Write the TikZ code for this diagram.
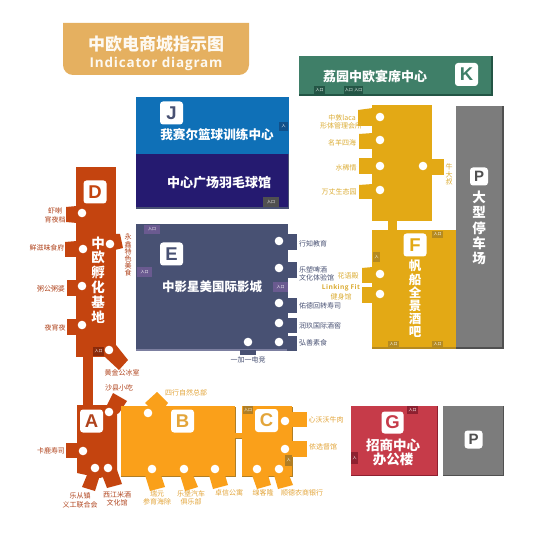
\documentclass[tikz,border=0pt]{standalone}
\usepackage{fontspec}
\setmainfont{Noto Sans CJK SC}
\newfontfamily\cjk{Noto Sans CJK SC}
\newfontfamily\latinb[LetterSpace=6]{Open Sans Bold}
\newfontfamily\iconf{Liberation Sans Bold}
\definecolor{cTitle}{HTML}{E5B060}
\definecolor{cBlue}{HTML}{0F70B7}
\definecolor{cBlueD}{HTML}{10508A}
\definecolor{cNavy}{HTML}{251A70}
\definecolor{cGreen}{HTML}{3F7F68}
\definecolor{cGreenD}{HTML}{235545}
\definecolor{cRust}{HTML}{C4440F}
\definecolor{cRustD}{HTML}{8A2A0A}
\definecolor{cRustL}{HTML}{B0431C}
\definecolor{cOrange}{HTML}{FAA01A}
\definecolor{cOrangeD}{HTML}{B07E25}
\definecolor{cOrangeL}{HTML}{E3A53A}
\definecolor{cGold}{HTML}{E3A915}
\definecolor{cGoldD}{HTML}{B58A20}
\definecolor{cGoldL}{HTML}{DCAD35}
\definecolor{cSlate}{HTML}{485173}
\definecolor{cSlateL}{HTML}{7C7FA0}
\definecolor{cTag}{HTML}{6A5A90}
\definecolor{cGray}{HTML}{7C7C7C}
\definecolor{cGrayD}{HTML}{505050}
\definecolor{cRed}{HTML}{C63B49}
\definecolor{cRedD}{HTML}{8E2030}
\tikzset{
  dot/.style={circle,fill=white,minimum size=8.6pt,inner sep=0pt},
  iconbox/.style={fill=white,rounded corners=3pt,minimum size=23pt,inner sep=0pt,font=\iconf\fontsize{18.5}{19}\selectfont},
  iconsmall/.style={iconbox,minimum size=18pt,font=\iconf\fontsize{15}{15}\selectfont},
  lab/.style={inner sep=0pt,font=\cjk\fontsize{7}{8}\selectfont},
  big/.style={inner sep=0pt,text=white,font=\cjk\bfseries\fontsize{13}{14}\selectfont},
  vbig/.style={big,font=\cjk\bfseries\fontsize{13.5}{15}\selectfont},
  tagt/.style={inner sep=0pt,text=white,font=\cjk\fontsize{4}{4}\selectfont},
}
\newcommand{\tagbox}[6]{\fill[#5] (#1,#2) rectangle (#3,#4);
  \node[tagt] (#6) at ({(#1+#3)/2},{(#2+#4)/2}) {入口};}
\begin{document}
\begin{tikzpicture}[x=1pt,y=-1pt]
\useasboundingbox (0,0) rectangle (549,537);
\fill[white] (0,0) rectangle (549,537);
% title
\fill[cTitle] (63,23) -- (249,23) -- (249,65) arc[start angle=0,end angle=90,radius=10] -- (73,75) arc[start angle=90,end angle=180,radius=10] -- cycle;
\node[inner sep=0pt,text=white!92!cTitle,font=\cjk\bfseries\fontsize{17}{18}\selectfont] (title) at (156,44) {中欧电商城指示图};
\node[inner sep=0pt,text=white!92!cTitle,font=\latinb\fontsize{13.5}{14}\selectfont] (titleen) at (156,64) {Indicator diagram};
% J
\fill[cBlue] (136,97) rectangle (289,154);
\fill[cNavy] (136,154) rectangle (288,207);
\fill[cSlate] (136,207) rectangle (289,209);
\fill[cSlate] (288,154) rectangle (289,209);
\fill[cBlueD] (279,122) rectangle (288,131);
\node[tagt] (tagJ) at (283.5,126.5) {入};
\fill[cGrayD] (263,197) rectangle (279,207);
\node[tagt] (tagJ2) at (271,202) {入口};
\node[iconbox,text=cSlate] (iconJ) at (171.5,113) {J};
\node[big,font=\cjk\bfseries\fontsize{12.6}{14}\selectfont] (tJ) at (217,135) {我赛尔篮球训练中心};
\node[big] (tH) at (219,183) {中心广场羽毛球馆};
% K
\fill[cGreenD] (299,56) rectangle (493,96);
\fill[cGreen] (299,56) rectangle (491,94);
\node[iconbox,text=cGreen] (iconK) at (466.5,74.5) {K};
\node[big] (tK) at (375,76) {荔园中欧宴席中心};
\tagbox{314}{86}{325}{94}{cGreenD}{tagK1}
\tagbox{344}{86}{353.5}{94}{cGreenD}{tagK2}
\tagbox{353.5}{86}{363}{94}{cGreenD}{tagK3}
% D
\fill[cRust] (76,167) rectangle (116,357);
\fill[cRust] (83,357) rectangle (93,408);
\fill[cRust] (66,207) -- (77,206) -- (77,223) -- (66,222) -- cycle;
\fill[cRust] (65,242) -- (77,241) -- (77,257) -- (65,257) -- cycle;
\fill[cRust] (67,280) -- (77,280) -- (77,296) -- (67,296) -- cycle;
\fill[cRust] (67,319) -- (77,319) -- (77,335) -- (67,335) -- cycle;
\fill[cRust] (115,234) -- (120,234) -- (123,248) -- (115,250) -- cycle;
\fill[cRust] (105,357) -- (116,345) -- (128,360) -- (119,370) -- cycle;
\node[iconbox,text=cRust] (iconD) at (95,192) {D};
\foreach \n/\y/\c in {a/243/中,b/257/欧,c/272/孵,d/287/化,e/302/基,f/317/地}
  \node[vbig] (tD\n) at (98,\y) {\c};
\tagbox{93}{347}{104}{356}{cRustD}{tagD}
\foreach \n/\x/\y in {a/82/213,b/83/249,c/82/286,d/82/325,e/110/244,f/109/350}
  \node[dot] (dD\n) at (\x,\y) {};
\begin{scope}[every node/.style={lab,text=cRustL}]
\node (l1) at (55,211) {虾喇};
\node (l2) at (55,220) {宵夜档};
\node (l3) at (47,248) {鲜滋味食府};
\node (l4) at (51,289) {粥公粥婆};
\node (l5) at (55,328) {夜宵夜};
\foreach \n/\y/\c in {a/237/永,b/244.5/鑫,c/252/特,d/259/色,e/266/美,f/273/食}
  \node (l6\n) at (128,\y) {\c};
\node (l7) at (122,373) {黄金公冰室};
\node (l8) at (119,388) {沙县小吃};
\node (l9) at (51,451) {卡鹿寿司};
\node (l10) at (80,496) {乐从镇};
\node (l11) at (80,505) {义工联合会};
\node (l12) at (117,495) {西江米酒};
\node (l13) at (117,503) {文化馆};
\end{scope}
% A
\fill[cRust] (77,405) -- (117,405) -- (117,473) -- (100,478) -- (77,473) -- cycle;
\fill[cRust] (66,443) rectangle (78,458);
\fill[cRust] (107,405) -- (113,393) -- (127,401) -- (119,413) -- (117,414) -- cycle;
\fill[cRust] (87,475) -- (82,487) -- (95,491) -- (100,475) -- cycle;
\fill[cRust] (102,475) -- (107,488) -- (122,484) -- (117,470) -- cycle;
\node[iconbox,text=cRustL] (iconA) at (91.5,421) {A};
\foreach \n/\x/\y in {a/109/412,b/83/451,c/95/468,d/108/468}
  \node[dot] (dA\n) at (\x,\y) {};
% B
\fill[cOrangeD] (121,407) rectangle (236,477);
\fill[cOrange] (121,406) rectangle (235,476);
\fill[cOrange] (145,403) -- (157,392) -- (168,403) -- (165,407) -- (149,407) -- cycle;
\fill[cOrangeD] (235,433) rectangle (242,439);
\fill[cOrange] (235,433) rectangle (243,438);
\fill[cOrange] (145,475) -- (150,491) -- (165,487) -- (161,475) -- cycle;
\fill[cOrange] (180,475) -- (185,491) -- (198,487) -- (193,475) -- cycle;
\fill[cOrange] (209,475) -- (213,489) -- (228,485) -- (225,475) -- cycle;
\node[iconbox,text=cOrangeL] (iconB) at (182.5,421) {B};
\foreach \n/\x/\y in {a/148/413,b/152/469,c/184/469,d/215/469}
  \node[dot] (dB\n) at (\x,\y) {};
% C
\fill[cOrangeD] (242,407) rectangle (293,477);
\fill[cOrange] (242,406) rectangle (292,476);
\fill[cOrange] (291,412) rectangle (307,427);
\fill[cOrange] (291,441) rectangle (307,457);
\fill[cOrange] (252,475) -- (257,489) -- (271,485) -- (268,475) -- cycle;
\fill[cOrange] (274,475) -- (278,489) -- (293,485) -- (289,475) -- cycle;
\node[iconbox,text=cOrangeL] (iconC) at (266.5,420.5) {C};
\tagbox{243}{406}{253}{414}{cOrangeD}{tagC1}
\fill[cOrangeD] (285,455) rectangle (292,466);
\node[tagt] (tagC2) at (288.5,460.5) {入};
\foreach \n/\x/\y in {a/285/421,b/285/449,c/257/469,d/279/469}
  \node[dot] (dC\n) at (\x,\y) {};
\begin{scope}[every node/.style={lab,text=cOrangeL}]
\node (l14) at (186,393) {四行自然总部};
\node (l15) at (157,494) {瑞元};
\node (l16) at (157,502) {参育海除};
\node (l17) at (191,494) {乐堡汽车};
\node (l18) at (191,502) {俱乐部};
\node (l19) at (229,493) {卓信公寓};
\node (l20) at (326,420) {心沃沃牛肉};
\node (l21) at (323,447) {依选督馆};
\node (l22) at (263,493) {缐客隆};
\node (l23) at (302,493) {顺德农商银行};
\end{scope}
% G
\fill[cRedD] (351,406) rectangle (438,476);
\fill[cRed] (351,406) rectangle (436.5,475);
\node[iconbox,text=cRed,minimum size=22pt] (iconG) at (392.5,422.5) {G};
\node[vbig] (tG1) at (393,445) {招商中心};
\node[vbig] (tG2) at (393,459) {办公楼};
\tagbox{407}{406}{418}{414}{cRedD}{tagG1}
\fill[cRedD] (351,452) rectangle (358,464);
\node[tagt] (tagG2) at (354.5,458) {入};
% small P
\fill[cGrayD] (443,406) rectangle (504,476);
\fill[cGray] (443,406) rectangle (502.5,474.5);
\node[iconsmall,text=cGrayD] (iconP2) at (473.5,439.5) {P};
% E
\fill[cSlate] (136,224) rectangle (288,350);
\fill[cSlateL] (136,349) rectangle (288,351);
\foreach \a/\b in {234/250,262/278,298/313,318/333,336/351}
  \fill[cSlate] (287,\a) rectangle (297,\b);
\fill[cSlate] (240,350) rectangle (256,355);
\tagbox{144}{225}{160}{234}{cTag}{tagE1}
\tagbox{137}{267}{152}{277}{cTag}{tagE2}
\tagbox{273}{282}{288}{292}{cTag}{tagE3}
\node[iconbox,text=cSlate] (iconE) at (171.5,254) {E};
\node[big,font=\cjk\bfseries\fontsize{12.5}{14}\selectfont] (tE) at (212,287) {中影星美国际影城};
\foreach \n/\x/\y in {a/279/241,b/279/268,c/279/303,d/279/323,e/279/342,f/248/342}
  \node[dot] (dE\n) at (\x,\y) {};
\begin{scope}[every node/.style={lab,text=cSlate,anchor=west}]
\node (l24) at (299,244) {行知教育};
\node (l25) at (299,270) {乐塑啤酒};
\node (l26) at (299,278) {文化体验馆};
\node (l27) at (299,306) {佑德回转寿司};
\node (l28) at (299,326) {润玖国际酒窖};
\node (l29) at (299,343) {弘善素食};
\node[anchor=center] (l30) at (248,360) {一加一电竞};
\end{scope}
% F upper
\fill[cGold] (372,105) rectangle (432,221);
\fill[cGold] (358,110) -- (373,108) -- (373,126) -- (358,126) -- cycle;
\fill[cGold] (359,134) -- (373,133) -- (373,149) -- (359,149) -- cycle;
\fill[cGold] (359,158) rectangle (373,174);
\fill[cGold] (359,185) -- (373,184) -- (373,199) -- (359,199) -- cycle;
\fill[cGold] (431,159) rectangle (444,175);
\fill[cGold] (388,220) rectangle (397,231);
\foreach \n/\x/\y in {a/380/117,b/380/140,c/380/166,d/380/190,e/423/166}
  \node[dot] (dT\n) at (\x,\y) {};
% F lower
\fill[cGoldD] (372,230) rectangle (456,349);
\fill[cGold] (372,230) rectangle (456,347.5);
\fill[cGold] (362,268) -- (373,267) -- (373,283) -- (362,283) -- cycle;
\fill[cGold] (362,287) -- (373,287) -- (373,303) -- (362,303) -- cycle;
\node[iconbox,text=cGold] (iconF) at (415,245) {F};
\foreach \n/\y/\c in {a/266/帆,b/279.5/船,c/292.5/全,d/305.5/景,e/319/酒,f/332/吧}
  \node[vbig,font=\cjk\bfseries\fontsize{12.5}{14}\selectfont] (tF\n) at (415,\y) {\c};
\tagbox{432}{231}{443}{238}{cGoldD}{tagF1}
\fill[cGoldD] (373,252) rectangle (380,262);
\node[tagt] (tagF2) at (376.5,257) {入};
\tagbox{388}{341}{399}{348}{cGoldD}{tagF3}
\tagbox{432}{341}{443}{348}{cGoldD}{tagF4}
\foreach \n/\y in {a/274,b/294}
  \node[dot] (dF\n) at (380,\y) {};
\begin{scope}[every node/.style={lab,text=cGoldL}]
\node (l31) at (342,118) {中敦laca};
\node (l32) at (341,126) {形体管理会所};
\node (l33) at (342,143) {名羊四海};
\node (l34) at (346,168) {水稀情};
\node (l35) at (339,192) {万丈生态园};
\node (l36a) at (449,167) {牛};
\node (l36b) at (449,174.5) {大};
\node (l36c) at (449,182) {叔};
\node (l37) at (348,276) {花语殿};
\node[font=\latinb\fontsize{6.6}{8}\selectfont] (l38) at (341,288) {Linking Fit};
\node (l39) at (341,297) {健身馆};
\end{scope}
% big P
\fill[cGrayD] (456,106) rectangle (504,349);
\fill[cGray] (456,106) rectangle (502,347);
\node[iconsmall,text=cGrayD] (iconP) at (479,176.5) {P};
\foreach \n/\y/\c in {a/197/大,b/212/型,c/228/停,d/243/车,e/258/场}
  \node[vbig] (tP\n) at (479,\y) {\c};
\end{tikzpicture}
\end{document}
